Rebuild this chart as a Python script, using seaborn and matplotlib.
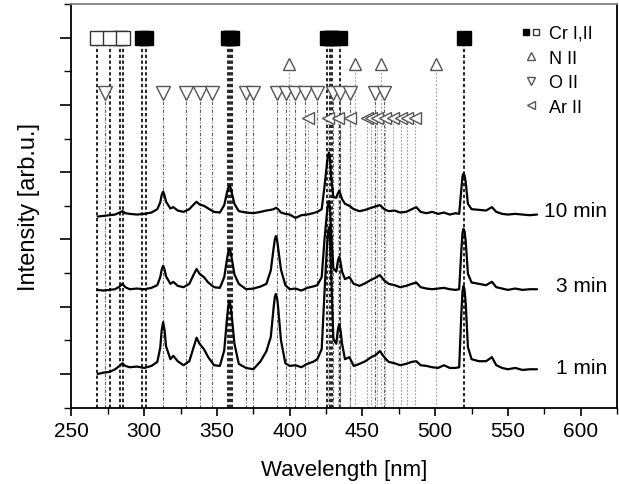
import numpy as np
import pandas as pd
import matplotlib
matplotlib.use('Agg')
import matplotlib.pyplot as plt
import seaborn as sns
from matplotlib.lines import Line2D
from matplotlib.legend_handler import HandlerTuple
from matplotlib.ticker import MultipleLocator

# --- spectra (relative intensity, stacked with offsets) ---
wavelength = [268, 272, 276, 280, 283, 285, 287, 290, 295, 300,
              305, 309, 311, 312, 313, 314, 315, 318, 320, 323,
              327, 331, 334, 336, 338, 341, 344, 348, 352, 355,
              357, 357.8, 358.5, 359.3, 360, 362, 365, 370, 375, 380,
              384, 387, 389, 389.8, 390.5, 391.3, 392, 394, 397, 400,
              404, 408, 412, 416, 419, 422, 424, 425.5, 426.3, 427,
              427.7, 428.5, 430, 432, 433.2, 434, 434.8, 436, 438, 441,
              444, 448, 452, 456, 459, 462, 465, 468, 472, 476,
              480, 484, 487, 490, 494, 498, 502, 506, 510, 514,
              516.5, 518, 518.8, 519.5, 520.2, 521, 522.5, 525, 530, 535,
              539, 542, 546, 550, 555, 560, 565, 570]

int_1min = [-0.05, -0.03, -0.02, 0.02, 0.07, 0.11, 0.07, 0.05, 0.06, 0.04,
            0.07, 0.13, 0.34, 0.60, 0.72, 0.60, 0.36, 0.17, 0.22, 0.14,
            0.08, 0.14, 0.35, 0.49, 0.40, 0.32, 0.20, 0.08, 0.07, 0.30,
            0.80, 0.97, 1.04, 0.97, 0.85, 0.40, 0.10, 0.04, 0.02, 0.14,
            0.29, 0.50, 0.95, 1.10, 1.14, 1.08, 0.95, 0.45, 0.11, 0.07,
            0.08, 0.05, 0.10, 0.13, 0.17, 0.32, 1.20, 1.80, 2.05, 2.13,
            1.95, 1.45, 0.47, 0.40, 0.62, 0.69, 0.62, 0.40, 0.17, 0.20,
            0.07, 0.10, 0.14, 0.20, 0.23, 0.29, 0.20, 0.13, 0.11, 0.08,
            0.10, 0.13, 0.14, 0.08, 0.07, 0.05, 0.04, 0.08, 0.04, 0.04,
            0.05, 0.85, 1.18, 1.26, 1.20, 1.00, 0.35, 0.17, 0.14, 0.14,
            0.20, 0.08, 0.04, 0.02, 0.04, 0.01, 0.02, 0.02]

int_3min = [0.03, 0.02, 0.03, 0.04, 0.08, 0.12, 0.07, 0.04, 0.05, 0.04,
            0.06, 0.10, 0.22, 0.33, 0.39, 0.33, 0.23, 0.12, 0.15, 0.09,
            0.07, 0.12, 0.26, 0.34, 0.27, 0.22, 0.14, 0.07, 0.06, 0.22,
            0.50, 0.60, 0.64, 0.60, 0.52, 0.26, 0.12, 0.04, 0.05, 0.08,
            0.12, 0.32, 0.66, 0.78, 0.83, 0.78, 0.66, 0.33, 0.10, 0.04,
            0.05, 0.02, 0.06, 0.08, 0.10, 0.22, 0.80, 1.15, 1.30, 1.35,
            1.25, 0.88, 0.35, 0.30, 0.47, 0.52, 0.46, 0.30, 0.19, 0.22,
            0.12, 0.09, 0.13, 0.18, 0.21, 0.25, 0.17, 0.12, 0.10, 0.07,
            0.09, 0.12, 0.14, 0.07, 0.05, 0.04, 0.05, 0.06, 0.04, 0.03,
            0.04, 0.62, 0.88, 0.94, 0.90, 0.75, 0.27, 0.14, 0.12, 0.10,
            0.15, 0.07, 0.05, 0.03, 0.05, 0.03, 0.04, 0.04]

int_10min = [-0.01, 0.00, 0.01, 0.02, 0.05, 0.07, 0.04, 0.03, 0.02, 0.03,
             0.05, 0.10, 0.20, 0.31, 0.36, 0.30, 0.21, 0.11, 0.13, 0.08,
             0.06, 0.10, 0.17, 0.21, 0.17, 0.15, 0.11, 0.06, 0.05, 0.16,
             0.36, 0.42, 0.45, 0.42, 0.36, 0.18, 0.07, 0.05, 0.04, 0.06,
             0.08, 0.09, 0.10, 0.11, 0.12, 0.11, 0.10, 0.05, 0.03, 0.02,
             -0.03, 0.01, 0.02, 0.04, 0.06, 0.10, 0.45, 0.76, 0.90, 0.94,
             0.85, 0.58, 0.28, 0.27, 0.34, 0.37, 0.33, 0.25, 0.18, 0.15,
             0.10, 0.07, 0.09, 0.12, 0.14, 0.16, 0.10, 0.07, 0.08, 0.05,
             0.06, 0.10, 0.13, 0.06, 0.04, 0.06, 0.03, 0.05, 0.02, 0.04,
             0.03, 0.40, 0.59, 0.63, 0.60, 0.50, 0.18, 0.10, 0.09, 0.08,
             0.13, 0.06, 0.03, 0.02, 0.03, 0.02, 0.01, 0.02]

series_labels = ['1 min', '3 min', '10 min']
series_offsets = [0.55, 1.72, 2.85]
label_heights = [0.60, 1.81, 2.93]

# --- emission line assignments [nm] ---
cr_filled = [283.6, 298.6, 301.0, 357.9, 359.3, 360.5, 425.4, 427.5, 429.0, 434.5, 520.0]
cr_open = [267.7, 276.7, 285.6]
n2_lines = [399.5, 444.7, 463.0, 500.5]
o2_lines = [273.0, 313.1, 328.7, 338.3, 346.3, 370.3, 374.9, 391.2, 397.3, 403.6,
            410.4, 418.6, 429.6, 434.5, 441.5, 458.5, 464.5]
ar2_lines = [412.7, 426.4, 433.3, 441.3, 452.8, 456.2, 459.7, 465.4, 471.1, 476.8, 480.3, 486.0]

# marker rows
row_cr, row_n, row_o, row_ar = 5.50, 5.11, 4.68, 4.31

sns.set_style('ticks')
plt.rcParams['font.family'] = ['Liberation Sans', 'DejaVu Sans']
plt.rcParams.update({'text.color': 'black', 'axes.labelcolor': 'black',
                     'xtick.color': 'black', 'ytick.color': 'black'})

fig = plt.figure(figsize=(6.19, 4.85), dpi=100)
ax = fig.add_axes([0.1155, 0.1575, 0.8813, 0.8322])

# vertical guide lines
ax.vlines(cr_filled + cr_open, 0, row_cr, colors='black', linestyles=(0, (2, 1.5)), lw=1.2, zorder=1)
ax.vlines(n2_lines, 0, row_n, colors='#a8a8a8', linestyles=(0, (1.5, 1.5)), lw=0.9, zorder=1)
ax.vlines(o2_lines, 0, row_o, colors='#606060', linestyles=(0, (3, 1.5, 1, 1.5)), lw=0.8, zorder=1)
ax.vlines(ar2_lines, 0, row_ar, colors='#9a9a9a', linestyles=(0, (1.5, 1.5)), lw=0.8, zorder=1)

# spectra
frames = []
for lab, off, vals in zip(series_labels, series_offsets, [int_1min, int_3min, int_10min]):
    frames.append(pd.DataFrame({'wl': wavelength, 'I': np.array(vals) + off, 'time': lab}))
df = pd.concat(frames, ignore_index=True)
sns.lineplot(data=df, x='wl', y='I', units='time', estimator=None, color='black',
             lw=1.6, ax=ax, zorder=3, legend=False)

for lab, yl in zip(series_labels, label_heights):
    ax.text(618, yl, lab, ha='right', va='center', fontsize=15, zorder=5)

# markers
ax.plot(cr_filled, [row_cr] * len(cr_filled), ls='none', marker='s', ms=9.4,
        mfc='black', mec='black', zorder=4)
ax.plot(cr_open, [row_cr] * len(cr_open), ls='none', marker='s', ms=9.4,
        mfc='white', mec='#333333', mew=1.0, zorder=4)
ax.plot(n2_lines, [row_n] * len(n2_lines), ls='none', marker='^', ms=9,
        mfc='white', mec='#555555', mew=1.0, zorder=4)
ax.plot(o2_lines, [row_o] * len(o2_lines), ls='none', marker='v', ms=9.6,
        mfc='white', mec='#555555', mew=1.0, zorder=4)
ax.plot(ar2_lines, [row_ar] * len(ar2_lines), ls='none', marker='<', ms=9,
        mfc='white', mec='#555555', mew=1.0, zorder=4)

# legend
h_cr = (Line2D([], [], ls='none', marker='s', ms=5, mfc='black', mec='black'),
        Line2D([], [], ls='none', marker='s', ms=5, mfc='white', mec='#333333'))
h_n = Line2D([], [], ls='none', marker='^', ms=6, mfc='white', mec='#555555')
h_o = Line2D([], [], ls='none', marker='v', ms=6, mfc='white', mec='#555555')
h_ar = Line2D([], [], ls='none', marker='<', ms=6, mfc='white', mec='#555555')
ax.legend([h_cr, h_n, h_o, h_ar], ['Cr I,II', 'N II', 'O II', 'Ar II'],
          handler_map={tuple: HandlerTuple(ndivide=None, pad=0.2)},
          loc='upper left', bbox_to_anchor=(0.828, 0.948), frameon=False,
          fontsize=13, handlelength=0.9, handletextpad=0.55, labelspacing=0.42,
          borderpad=0, borderaxespad=0)

# axes
ax.set_xlim(250, 625)
ax.set_ylim(0, 6)
ax.xaxis.set_major_locator(MultipleLocator(50))
ax.xaxis.set_minor_locator(MultipleLocator(25))
ax.set_yticks([0.5, 1.5, 2.5, 3.5, 4.5, 5.5])
ax.set_yticks([0, 1, 2, 3, 4, 5, 6], minor=True)
ax.set_yticklabels([])
ax.tick_params(axis='x', which='major', direction='out', length=6, width=1.2, labelsize=15)
ax.tick_params(axis='x', which='minor', direction='out', length=4, width=1.0)
ax.tick_params(axis='y', which='major', direction='out', length=8, width=1.2)
ax.tick_params(axis='y', which='minor', direction='out', length=5, width=1.0)
for side in ['left', 'bottom', 'right']:
    ax.spines[side].set_color('black')
    ax.spines[side].set_linewidth(1.3)
ax.spines['top'].set_color('#808080')
ax.spines['top'].set_linewidth(1.3)

ax.set_xlabel('Wavelength [nm]', fontsize=16, labelpad=14)
ax.set_ylabel('Intensity [arb.u.]', fontsize=17, labelpad=11)

fig.savefig('out.png', dpi=100)
